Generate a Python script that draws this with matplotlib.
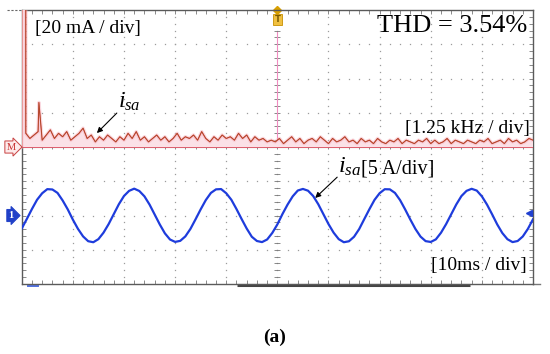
import numpy as np
import matplotlib
matplotlib.use("Agg")
import matplotlib.pyplot as plt
from matplotlib.transforms import blended_transform_factory

plt.rcParams["font.family"] = "Liberation Serif"
plt.rcParams["mathtext.fontset"] = "custom"
plt.rcParams["mathtext.rm"] = "Liberation Serif"
plt.rcParams["mathtext.it"] = "Liberation Serif:italic"

# scope settings
n_div_x, n_div_y = 10, 8
time_per_div_ms = 10
amp_per_div_a = 5
freq_per_div_hz = 1250
fft_per_div_ma = 20
ch1_ground_div = 2          # channel 1 ground, divisions above the bottom
thd_percent = 3.54
trigger_level_a = 0.3

# channel 1: source current i_sa, one sample per ms
time_ms = np.arange(0, 101)
isa_a = [
    -1.90, -0.50, 0.95, 2.30, 3.25, 3.85, 3.80, 3.30, 2.20, 0.90, -0.60,
    -1.95, -3.05, -3.75, -3.90, -3.45, -2.50, -1.25, 0.20, 1.65, 2.85, 3.60,
    3.92, 3.58, 2.80, 1.60, 0.15, -1.30, -2.60, -3.50, -3.85, -3.70, -3.05,
    -1.95, -0.55, 0.90, 2.25, 3.30, 3.82, 3.86, 3.25, 2.30, 0.95, -0.50,
    -1.90, -3.10, -3.72, -3.88, -3.50, -2.55, -1.30, 0.22, 1.60, 2.80, 3.65,
    3.88, 3.62, 2.85, 1.65, 0.20, -1.25, -2.50, -3.45, -3.90, -3.76, -3.10,
    -1.98, -0.52, 0.92, 2.28, 3.26, 3.84, 3.82, 3.30, 2.25, 0.88, -0.58,
    -1.96, -3.08, -3.74, -3.86, -3.48, -2.52, -1.26, 0.18, 1.62, 2.84, 3.60,
    3.90, 3.64, 2.80, 1.60, 0.18, -1.30, -2.56, -3.46, -3.88, -3.72, -3.06,
    -1.95, -0.55,
]

# FFT of i_sa (math channel)
harmonic_hz = [0, 60, 420]
harmonic_ma = [0, 2760, 26]
noise_start_hz, noise_step_hz = 100, 100
noise_ma = [
    8, 5, 7, 9, 4, 7, 10, 5, 8, 6,
    9, 4, 6, 8, 11, 5, 7, 3, 6, 4,
    7, 5, 3, 6, 4, 8, 5, 9, 4, 6,
    3, 5, 7, 4, 6, 3, 5, 8, 4, 6,
    5, 7, 4, 9, 5, 3, 6, 4, 7, 5,
    6, 4, 8, 5, 7, 3, 6, 4, 5, 3,
    4, 3, 5, 2, 4, 6, 3, 5, 2, 4,
    5, 3, 6, 4, 2, 5, 3, 4, 6, 3,
    4, 2, 5, 3, 4, 2, 5, 3, 2, 4,
    3, 5, 2, 4, 3, 2, 4, 3, 5, 2,
    4, 2, 3, 5, 2, 4, 3, 2, 4, 3,
    2, 4, 3, 5, 2, 3, 4, 2, 5, 3,
    4, 2, 3, 5, 4,
]

noise_hz = noise_start_hz + noise_step_hz * np.arange(len(noise_ma))
fft_hz = np.concatenate([harmonic_hz, noise_hz])
fft_ma = np.concatenate([harmonic_ma, noise_ma])
order = np.argsort(fft_hz, kind="stable")
fft_hz, fft_ma = fft_hz[order], fft_ma[order]

fig = plt.figure(figsize=(5.5, 3.54), dpi=100)
rect = [0.0395, 0.1977, 0.9296, 0.774]

# screen: graticule and frame, in divisions
scr = fig.add_axes(rect)
scr.set_xlim(0, n_div_x)
scr.set_ylim(0, n_div_y)
dot = dict(ls="none", marker="s", ms=0.9, mec="none", color="#9c9c9c")
ys = np.arange(0, n_div_y + 0.01, 0.2)
xs = np.arange(0, n_div_x + 0.01, 0.2)
for k in range(1, n_div_x):
    scr.plot(np.full_like(ys, k), ys, **dot)
for k in range(1, n_div_y):
    if k != n_div_y // 2:
        scr.plot(xs, np.full_like(xs, k), **dot)
scr.plot([0, n_div_x], [n_div_y / 2] * 2, color="#8a8a8a", lw=0.8)
scr.plot(xs, np.full_like(xs, n_div_y / 2), ls="none", marker="|", ms=3,
         mew=0.6, color="#777777")
scr.plot(np.full_like(ys, n_div_x / 2), ys, ls="none", marker="_", ms=4,
         mew=0.6, color="#777777")
scr.set_xticks(np.arange(0, n_div_x + 0.01, 1))
scr.set_xticks(xs, minor=True)
scr.set_yticks(np.arange(0, n_div_y + 0.01, 1))
scr.set_yticks(ys, minor=True)
scr.tick_params(which="both", direction="in", length=3, width=0.6,
                color="#777777", top=True, right=True,
                labelbottom=False, labelleft=False)
for s in scr.spines.values():
    s.set_color("#5a5a5a")
    s.set_linewidth(1.0)
# trigger position line, bottom status bars
scr.plot([5, 5], [4, 7.35], color="#f08cc0", lw=0.8)
scr.plot([4.21, 8.77], [-0.04, -0.04], color="#444444", lw=2.2,
         solid_capstyle="butt", clip_on=False)
scr.plot([10, 10.14], [0, 0], color="#777777", lw=1, clip_on=False)
scr.plot([0.12, 0.32], [-0.07, -0.07], color="#5070e0", lw=1.4, clip_on=False)
scr.plot([-0.28, 0], [8, 8], color="#666666", lw=0.8, ls=(0, (2, 1.5)),
         clip_on=False)
scr.plot([5], [8], marker="D", ms=4, color="#d9a000", clip_on=False)
scr.text(5, 7.72, "T", ha="center", va="center", fontsize=6,
         color="#7a5a00", family="DejaVu Sans", fontweight="bold",
         bbox=dict(boxstyle="square,pad=0.15", fc="#f0c040", ec="#c89000",
                   lw=0.6))

# FFT trace
fft_ax = fig.add_axes(rect, facecolor="none")
fft_ax.set_xlim(0, n_div_x * freq_per_div_hz)
fft_ax.set_ylim(-n_div_y / 2 * fft_per_div_ma, n_div_y / 2 * fft_per_div_ma)
fft_ax.axis("off")
fft_ax.fill_between(fft_hz, 0, fft_ma, color="#fbe1e7", lw=0)
fft_ax.plot(fft_hz, fft_ma, color="#f6b4c2", lw=2.5, alpha=0.5)
fft_ax.plot(fft_hz, fft_ma, color="#d8382a", lw=0.8)
fft_ax.plot(fft_hz, fft_ma, color="#8a5a30", lw=0.45, alpha=0.7)
fft_ax.axhline(0, color="#e06070", lw=0.7)

# time trace
t_ax = fig.add_axes(rect, facecolor="none")
t_ax.set_xlim(0, n_div_x * time_per_div_ms)
t_ax.set_ylim(-ch1_ground_div * amp_per_div_a,
              (n_div_y - ch1_ground_div) * amp_per_div_a)
t_ax.axis("off")
t_ax.plot(time_ms, isa_a, color="#1e3cdc", lw=1.6)
t_ax.plot([99.2], [trigger_level_a], marker="<", ms=5, color="#2040d0",
          clip_on=False)

# channel markers on the left edge
m_tr = blended_transform_factory(fft_ax.transAxes, fft_ax.transData)
fft_ax.text(-0.021, 0, "M", transform=m_tr, ha="center", va="center",
            fontsize=7.5, color="#c83030",
            bbox=dict(boxstyle="rarrow,pad=0.15", fc="#fdeaea", ec="#c84040",
                      lw=0.7))
c_tr = blended_transform_factory(t_ax.transAxes, t_ax.transData)
t_ax.text(-0.021, 0, "1", transform=c_tr, ha="center", va="center",
          fontsize=7.5, color="white", fontweight="bold",
          bbox=dict(boxstyle="rarrow,pad=0.15", fc="#2040c8", ec="#2040c8",
                    lw=0.7))

# labels
tr = t_ax.transAxes
t_ax.text(0.026, 0.934, "[%d mA / div]" % fft_per_div_ma, transform=tr,
          fontsize=14, ha="left", va="center")
t_ax.text(0.988, 0.942, "THD = %.2f%%" % thd_percent, transform=tr,
          fontsize=19, ha="right", va="center")
t_ax.text(0.994, 0.566, "[%.2f kHz / div]" % (freq_per_div_hz / 1000),
          transform=tr, fontsize=14, ha="right", va="center")
t_ax.text(0.988, 0.066, "[%dms / div]" % time_per_div_ms, transform=tr,
          fontsize=14, ha="right", va="center")
t_ax.text(0.188, 0.642, r"$i_{sa}$", transform=tr, fontsize=17,
          ha="left", va="baseline")
t_ax.text(0.619, 0.405, r"$i_{sa}$", transform=tr, fontsize=17.5,
          ha="left", va="baseline")
t_ax.text(0.6635, 0.405, "[%d A/div]" % amp_per_div_a, transform=tr,
          fontsize=14.5, ha="left", va="baseline")
arrow = dict(arrowstyle="-|>", color="black", lw=0.8, mutation_scale=8,
             shrinkA=0, shrinkB=0)
t_ax.annotate("", xy=(0.147, 0.551), xytext=(0.186, 0.624),
              xycoords="axes fraction", arrowprops=arrow)
t_ax.annotate("", xy=(0.574, 0.314), xytext=(0.617, 0.390),
              xycoords="axes fraction", arrowprops=arrow)

fig.text(0.5, 0.048, "(a)", ha="center", va="center", fontsize=14,
         fontweight="bold")

fig.savefig("out.png", dpi=100)
